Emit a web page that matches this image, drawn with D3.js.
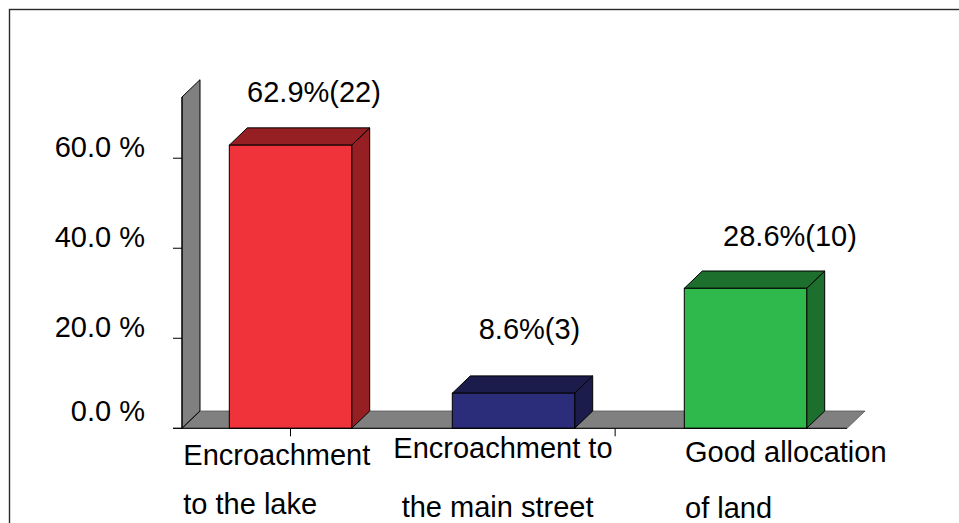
<!DOCTYPE html>
<html>
<head>
<meta charset="utf-8">
<script src="https://cdn.jsdelivr.net/npm/d3@7/dist/d3.min.js"></script>
<style>
  html, body { margin: 0; padding: 0; background: #fff; }
  svg { display: block; }
  text { font-family: "Liberation Sans", Arial, sans-serif; fill: #000; }
</style>
</head>
<body>
<svg id="chart" width="959" height="523"></svg>
<script>
// ---- data ----
const categories = ["Encroachment to the lake", "Encroachment to the main street", "Good allocation of land"];
const categoryLines = [["Encroachment", "to the lake"], ["Encroachment to", "the main street"], ["Good allocation", "of land"]];
const barValues = [62.9, 7.8, 31.1];
const dataLabels = ["62.9%(22)", "8.6%(3)", "28.6%(10)"];
const yTickValues = [0, 20, 40, 60];
const yTickLabels = ["0.0 %", "20.0 %", "40.0 %", "60.0 %"];
const barColors = [
  { front: "#F0333B", dark: "#961F24" },
  { front: "#2B2C7A", dark: "#1C1C4C" },
  { front: "#2FB84B", dark: "#1D6F2E" }
];

// ---- layout ----
const W = 959, H = 523;
const plotLeft = 182, plotRight = 847;
const floorY = 428.3, wallTopY = 97;
const depthX = 18, depthY = -17.3;
const fontSize = 29;

const svg = d3.select("#chart");

// outer frame
svg.append("rect").attr("x", 9.5).attr("y", 9.5).attr("width", 1000).attr("height", 1000)
  .attr("fill", "none").attr("stroke", "#2a2a2a").attr("stroke-width", 1.4);

const y = d3.scaleLinear().domain([0, 73.6]).range([floorY, wallTopY]);
const x = d3.scalePoint().domain(categories).range([290.5, 745.5]);
const step = x.step();
const barW = step * 0.538;
const barShift = [0, -4.5, 0];

const gray = "#808080";

// wall (left side, seen edge-on)
svg.append("path")
  .attr("d", d3.line()([
    [plotLeft, y(0)], [plotLeft, y.range()[1]],
    [plotLeft + depthX, y.range()[1] + depthY], [plotLeft + depthX, y(0) + depthY]
  ]) + "Z")
  .attr("fill", gray).attr("stroke", "#000").attr("stroke-width", 1);

// floor
svg.append("path")
  .attr("d", d3.line()([
    [plotLeft, y(0)], [plotRight, y(0)],
    [plotRight + depthX, y(0) + depthY], [plotLeft + depthX, y(0) + depthY]
  ]) + "Z")
  .attr("fill", gray).attr("stroke", "#555").attr("stroke-width", 0.8);
svg.append("line")
  .attr("x1", plotLeft).attr("y1", y(0)).attr("x2", plotLeft + depthX).attr("y2", y(0) + depthY)
  .attr("stroke", "#000").attr("stroke-width", 1);

// bars
const bars = svg.append("g").selectAll("g").data(categories).join("g");
bars.each(function (c, i) {
  const g = d3.select(this);
  const cx = x(c) + barShift[i];
  const x0 = cx - barW / 2, x1 = cx + barW / 2;
  const yt = y(barValues[i]), yb = y(0);
  const col = barColors[i];
  g.append("path").attr("d", d3.line()([
    [x1, yb], [x1, yt], [x1 + depthX, yt + depthY], [x1 + depthX, yb + depthY]
  ]) + "Z").attr("fill", col.dark).attr("stroke", "#000").attr("stroke-width", 1);
  g.append("path").attr("d", d3.line()([
    [x0, yt], [x1, yt], [x1 + depthX, yt + depthY], [x0 + depthX, yt + depthY]
  ]) + "Z").attr("fill", col.dark).attr("stroke", "#000").attr("stroke-width", 1);
  g.append("rect").attr("x", x0).attr("y", yt).attr("width", barW).attr("height", yb - yt)
    .attr("fill", col.front).attr("stroke", "#000").attr("stroke-width", 1);
});

// y axis line + ticks
svg.append("line").attr("x1", plotLeft).attr("x2", plotLeft)
  .attr("y1", y.range()[1]).attr("y2", y(0)).attr("stroke", "#000").attr("stroke-width", 1);
const ytg = svg.append("g").selectAll("g").data(yTickValues).join("g");
ytg.append("line").attr("x1", plotLeft - 9).attr("x2", plotLeft)
  .attr("y1", d => y(d)).attr("y2", d => y(d)).attr("stroke", "#000").attr("stroke-width", 1);
ytg.append("text").attr("x", 145).attr("y", d => y(d) - (d === 0 ? 7 : 1.5))
  .attr("text-anchor", "end").attr("font-size", fontSize)
  .text((d, i) => yTickLabels[i]);

// x axis line + ticks
svg.append("line").attr("x1", plotLeft - 9).attr("x2", plotRight)
  .attr("y1", y(0)).attr("y2", y(0)).attr("stroke", "#000").attr("stroke-width", 1);
const xTickPos = [x(categories[0]), x(categories[1]) + step * 0.427];
svg.append("g").selectAll("line").data(xTickPos).join("line")
  .attr("x1", d => d).attr("x2", d => d).attr("y1", y(0)).attr("y2", y(0) + 8)
  .attr("stroke", "#000").attr("stroke-width", 1);

// data labels
const labelDx = [23.5, 11.5, 44.5];
const labelDy = [26, 37, 25];
svg.append("g").selectAll("text").data(categories).join("text")
  .attr("x", (c, i) => x(c) + labelDx[i])
  .attr("y", (c, i) => y(barValues[i]) + depthY - labelDy[i])
  .attr("text-anchor", "middle").attr("font-size", fontSize)
  .text((c, i) => dataLabels[i]);

// category labels
const catDx = [[-107.2, -107.2], [-124.7, -116.3], [-60.5, -60.5]];
const catBase = [[465, 514.3], [458.3, 516.7], [461.7, 518.3]];
const cl = svg.append("g").selectAll("g").data(categories).join("g");
cl.each(function (c, i) {
  d3.select(this).selectAll("text").data(categoryLines[i]).join("text")
    .attr("x", (t, j) => x(c) + catDx[i][j])
    .attr("y", (t, j) => catBase[i][j])
    .attr("font-size", fontSize)
    .text(t => t);
});
</script>
</body>
</html>
